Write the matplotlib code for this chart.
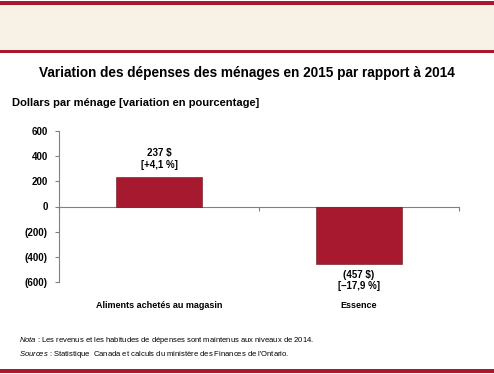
import matplotlib.pyplot as plt
from matplotlib.patches import Rectangle

categories = ["Aliments achetés au magasin", "Essence"]
values = [237, -457]
bar_labels = ["237 $\n[+4,1 %]", "(457 $)\n[\u201317,9 %]"]
yticks = [600, 400, 200, 0, -200, -400, -600]
ytick_labels = ["600", "400", "200", "0", "(200)", "(400)", "(600)"]

RED = "#A6192E"
plt.rcParams["font.family"] = ["Liberation Sans", "DejaVu Sans"]
plt.rcParams["mathtext.fontset"] = "custom"
plt.rcParams["mathtext.it"] = "Liberation Sans:italic"
plt.rcParams["mathtext.rm"] = "Liberation Sans"

fig = plt.figure(figsize=(4.94, 3.74), dpi=100)

# top band and red rules
fig.add_artist(Rectangle((0, 1 - 51 / 374), 1, 47 / 374, transform=fig.transFigure,
                         facecolor="#F8F1E5", edgecolor="none"))
fig.add_artist(Rectangle((0, 1 - 4.5 / 374), 1, 3 / 374, transform=fig.transFigure,
                         facecolor=RED, edgecolor="none"))
fig.add_artist(Rectangle((0, 1 - 52.5 / 374), 1, 2.5 / 374, transform=fig.transFigure,
                         facecolor=RED, edgecolor="none"))
fig.add_artist(Rectangle((0, 1 / 374), 1, 4 / 374, transform=fig.transFigure,
                         facecolor=RED, edgecolor="none"))

fig.text(0.5, 1 - 73 / 374, "Variation des dépenses des ménages en 2015 par rapport à 2014",
         ha="center", va="center", fontsize=9.8, fontweight="bold")
fig.text(12 / 494, 1 - 103 / 374, "Dollars par ménage [variation en pourcentage]",
         ha="left", va="center", fontsize=8, fontweight="bold")

ax = fig.add_axes([59 / 494, 1 - 282 / 374, 400 / 494, 151 / 374])
x = range(len(categories))
bars = ax.bar(x, values, width=0.43, color=RED, edgecolor="#6e0f1c", linewidth=0.4, zorder=3)

ax.set_xlim(-0.5, len(categories) - 0.5)
ax.set_ylim(-600, 600)
ax.set_yticks(yticks)
ax.set_yticklabels(ytick_labels, fontsize=7, fontweight="bold")
ax.set_xticks([i - 0.5 for i in range(len(categories) + 1)])
ax.set_xticklabels([])
ax.tick_params(axis="y", direction="out", length=3, color="#808080", pad=5)
ax.tick_params(axis="x", direction="out", length=3, color="#808080")
for s in ["top", "right"]:
    ax.spines[s].set_visible(False)
ax.spines["bottom"].set_position(("data", 0))
ax.spines["bottom"].set_color("#808080")
ax.spines["left"].set_color("#808080")

for b, v, lab in zip(bars, values, bar_labels):
    cx = b.get_x() + b.get_width() / 2
    if v >= 0:
        ax.annotate(lab, (cx, v), xytext=(0, 5), textcoords="offset points",
                    ha="center", va="bottom", fontsize=7, fontweight="bold",
                    linespacing=1.2)
    else:
        ax.annotate(lab, (cx, v), xytext=(0, -4), textcoords="offset points",
                    ha="center", va="top", fontsize=7, fontweight="bold",
                    linespacing=1.2)

for i, c in enumerate(categories):
    ax.annotate(c, (i, 0), xycoords=("data", "axes fraction"), xytext=(0, -17),
                textcoords="offset points", ha="center", va="center",
                fontsize=6.5, fontweight="bold")

fig.text(19 / 494, 1 - 341 / 374,
         r"$\mathit{Nota}$ : Les revenus et les habitudes de dépenses sont maintenus aux niveaux de 2014.",
         fontsize=5.5, va="center")
fig.text(19 / 494, 1 - 355 / 374,
         r"$\mathit{Sources}$ : Statistique  Canada et calculs du ministère des Finances de l'Ontario.",
         fontsize=5.5, va="center")

fig.savefig("out.png", dpi=100)
